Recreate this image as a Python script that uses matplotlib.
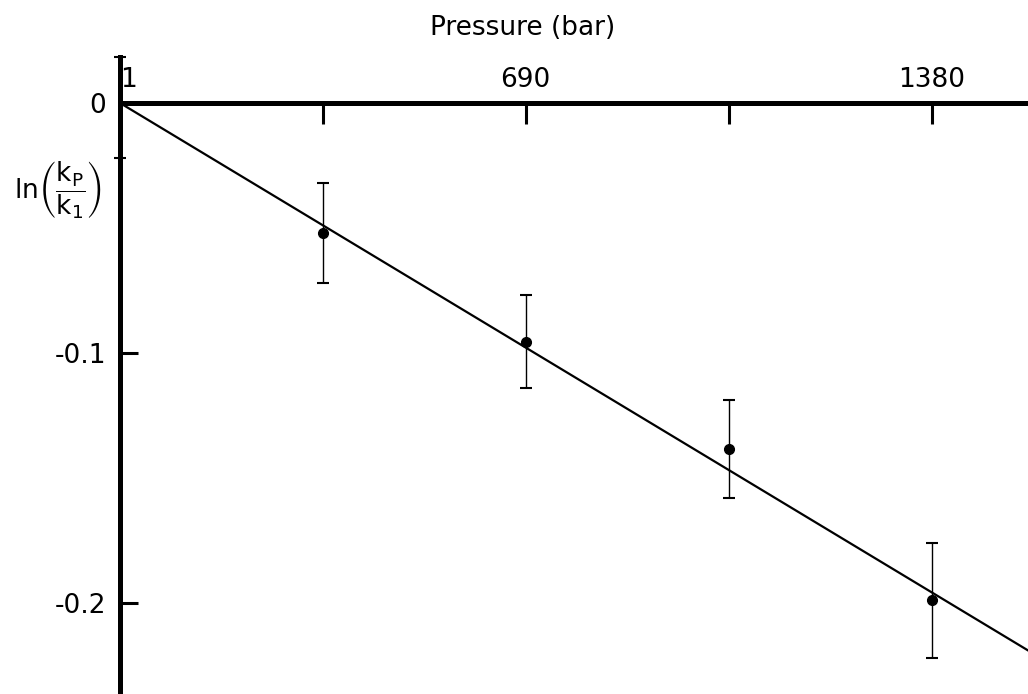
import matplotlib.pyplot as plt
import numpy as np

plt.rcParams['font.family'] = ['DejaVu Sans']
plt.rcParams['mathtext.fontset'] = 'dejavusans'

# data
pressure = [345.5, 690, 1035, 1380]          # bar
ln_ratio = [-0.052, -0.0956, -0.1385, -0.199]
err = [0.020, 0.0186, 0.0197, 0.023]
fit_slope = -1.42e-4                          # per bar, line starts at (1, 0)

x_ticks = [1, 345.5, 690, 1035, 1380]
x_ticklabels = ['1', '', '690', '', '1380']
y_ticks = [0, -0.1, -0.2]
y_ticklabels = ['0', '-0.1', '-0.2']

x_min, x_max = 1, 1543
y_min, y_max = -0.2364, 0.0184

fig = plt.figure(figsize=(10.28, 6.94), dpi=100)
ax = fig.add_axes([0.1167, 0.0, 0.8833, 0.9179])

# fitted line
xs = np.array([x_min, x_max])
ax.plot(xs, fit_slope * (xs - 1), color='black', lw=1.6, zorder=2)

# measured points with error bars
ax.errorbar(pressure, ln_ratio, yerr=err, fmt='o', color='black',
            ms=7, elinewidth=1.0, capsize=4, capthick=1.5, zorder=3)

ax.set_xlim(x_min, x_max)
ax.set_ylim(y_min, y_max)

# axis style: x axis drawn at y=0 on top, thick left spine
for s in ['bottom', 'right']:
    ax.spines[s].set_visible(False)
ax.spines['top'].set_position(('data', 0))
ax.spines['top'].set_linewidth(3.6)
ax.spines['left'].set_linewidth(3.6)

ax.xaxis.set_ticks_position('top')
ax.set_xticks(x_ticks)
ax.set_xticklabels(x_ticklabels)
ax.tick_params(axis='x', direction='in', length=15, width=2.2, pad=7,
               labelsize=19, top=True, bottom=False)
lab1 = ax.get_xticklabels()[0]
lab1.set_horizontalalignment('left')
lab1.set_x(6)

ax.set_yticks(y_ticks)
ax.set_yticklabels(y_ticklabels)
ax.tick_params(axis='y', direction='in', length=13, width=2.2, pad=10,
               labelsize=19)
ax.set_yticks([-0.022, 0.0184], minor=True)
ax.tick_params(axis='y', which='minor', direction='inout', length=8, width=1.5)

fig.text(523 / 1028, 1 - 28 / 694, 'Pressure (bar)', ha='center', va='center',
         fontsize=19)
fig.text(58 / 1028, 1 - 190 / 694,
         r'$\mathrm{ln}\left(\dfrac{\mathrm{k_P}}{\mathrm{k_1}}\right)$',
         ha='center', va='center', fontsize=19)

fig.savefig('out.png', dpi=100)
